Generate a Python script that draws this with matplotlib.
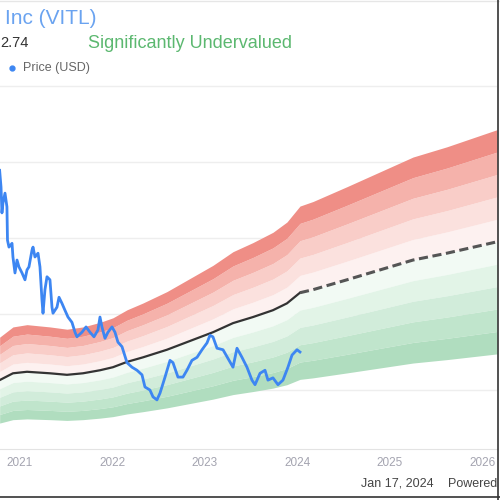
import numpy as np
import matplotlib
matplotlib.use("Agg")
import matplotlib.pyplot as plt

plt.rcParams['font.family'] = ['Liberation Sans', 'DejaVu Sans']

# price history (fractional year, USD)
price_years = [2020.78, 2020.795, 2020.805, 2020.816, 2020.838, 2020.859, 2020.865, 2020.881,
               2020.914, 2020.924, 2020.946, 2020.968, 2020.989, 2021.022, 2021.054, 2021.076,
               2021.097, 2021.130, 2021.141, 2021.162, 2021.195, 2021.216, 2021.238, 2021.249,
               2021.270, 2021.292, 2021.324, 2021.346, 2021.357, 2021.400, 2021.422, 2021.454,
               2021.486, 2021.519, 2021.562, 2021.595, 2021.616, 2021.670, 2021.714, 2021.757,
               2021.800, 2021.843, 2021.865, 2021.886, 2021.919, 2021.951, 2021.995, 2022.027,
               2022.059, 2022.103, 2022.157, 2022.211, 2022.265, 2022.319, 2022.351, 2022.405,
               2022.438, 2022.481, 2022.514, 2022.568, 2022.622, 2022.654, 2022.708, 2022.762,
               2022.805, 2022.859, 2022.914, 2022.968, 2023.022, 2023.054, 2023.086, 2023.130,
               2023.195, 2023.270, 2023.303, 2023.346, 2023.400, 2023.454, 2023.508, 2023.541,
               2023.595, 2023.649, 2023.681, 2023.735, 2023.789, 2023.843, 2023.897, 2023.941,
               2023.995, 2024.027]
price_vals = [38.9, 36.7, 33.3, 34.6, 35.9, 34.1, 29.7, 28.8,
              29.3, 27.5, 25.4, 27.1, 26.2, 25.4, 24.5, 25.8,
              26.2, 28.4, 28.8, 27.5, 28.0, 26.2, 21.8, 20.1,
              23.2, 24.9, 24.5, 20.9, 20.1, 20.9, 22.2, 21.4,
              20.5, 19.6, 18.9, 17.6, 17.0, 17.6, 18.3, 17.6,
              17.0, 17.9, 19.6, 18.3, 16.8, 17.6, 18.3, 17.6,
              16.3, 15.7, 13.6, 13.0, 12.6, 12.0, 10.4, 10.0,
              9.1, 8.7, 9.6, 11.7, 13.9, 13.6, 11.7, 11.7,
              12.6, 13.9, 14.3, 15.3, 16.2, 17.2, 17.0, 15.5,
              15.3, 13.7, 13.0, 15.5, 14.3, 13.0, 11.3, 10.7,
              12.2, 12.6, 11.3, 11.6, 10.7, 11.3, 13.0, 14.6,
              15.3, 15.0]

# GF Value line (history + projection)
gf_years = [2020.78, 2020.924, 2021.076, 2021.324, 2021.508, 2021.681, 2021.865, 2022.005,
            2022.157, 2022.330, 2022.589, 2022.870, 2023.086, 2023.303, 2023.519, 2023.735,
            2023.886, 2024.027, 2024.168, 2024.535, 2024.892, 2025.249, 2025.616, 2026.157]
gf_vals = [11.3, 12.2, 12.4, 12.2, 12.0, 12.2, 12.6, 13.0,
           13.7, 14.3, 15.3, 16.6, 17.6, 18.8, 19.6, 20.5,
           21.4, 22.8, 23.2, 24.5, 25.8, 27.1, 28.0, 29.5]
today = 2024.027

# valuation bands as multiples of GF Value
over_ratios = [1.0, 1.1, 1.2, 1.3, 1.4, 1.5]
over_colors = ['#fdf1f0', '#fbe1de', '#f9cdc8', '#f5b2ab', '#ef8e86']
under_ratios = [1.0, 0.9, 0.8, 0.7, 0.6, 0.5]
under_colors = ['#f2faf4', '#e2f4e7', '#d1ecda', '#c0e5cc', '#b0ddbf']

tick_years = [2021, 2022, 2023, 2024, 2025, 2026]
tick_labels = ['2021', '2022', '2023', '2024', '2025', '2026']

fig = plt.figure(figsize=(5, 5), dpi=100)
ax = fig.add_axes([0.0, 0.102, 0.994, 0.730])

gy = np.array(gf_years)
gv = np.array(gf_vals)
for i in range(5):
    ax.fill_between(gy, gv * over_ratios[i], gv * over_ratios[i + 1],
                    color=over_colors[i], linewidth=0)
    ax.fill_between(gy, gv * under_ratios[i + 1], gv * under_ratios[i],
                    color=under_colors[i], linewidth=0)

hist = gy <= today + 1e-6
proj = gy >= today - 1e-6
ax.plot(gy[hist], gv[hist], color='#333333', lw=1.6, zorder=3)
ax.plot(gy[proj], gv[proj], color='#555555', lw=2.2, ls=(0, (3, 1.5)), zorder=3)

ax.plot(price_years, price_vals, color='#3d86f2', lw=2.0, zorder=4)

ax.set_xlim(2020.784, 2026.157)
ax.set_ylim(2.24, 50.26)
ax.set_yticks([10, 20, 30, 40, 50])
ax.set_xticks(tick_years)
ax.set_xticklabels(tick_labels)
ax.grid(axis='y', color='#eeeeee', lw=1)
ax.set_axisbelow(True)
for s in ['left', 'right', 'top']:
    ax.spines[s].set_visible(False)
ax.spines['bottom'].set_color('#e3e3e3')
ax.tick_params(axis='y', left=False, labelleft=False)
ax.tick_params(axis='x', length=0, pad=6, labelsize=8.5, labelcolor='#a4a4b0')

# header texts
fig.text(5 / 500, 1 - 18 / 500, 'Inc (VITL)', color='#6aa3f0', fontsize=15, va='center', ha='left')
fig.text(0 / 500, 1 - 43 / 500, '2.74', color='#333333', fontsize=10.5, va='center', ha='left')
fig.text(88 / 500, 1 - 43 / 500, 'Significantly Undervalued', color='#5cb870', fontsize=13,
         va='center', ha='left')
fig.lines.append(plt.Line2D([12 / 500], [1 - 68 / 500], marker='o', ms=3.5, color='#3d86f2',
                            transform=fig.transFigure))
fig.text(23 / 500, 1 - 68 / 500, 'Price (USD)', color='#666666', fontsize=9, va='center', ha='left')
fig.text(361 / 500, 1 - 484 / 500, 'Jan 17, 2024', color='#444444', fontsize=9, va='center', ha='left')
fig.text(448 / 500, 1 - 484 / 500, 'Powered', color='#444444', fontsize=9, va='center', ha='left')

# frame of the image
fig.lines.append(plt.Line2D([0, 1], [0.998, 0.998], color='#e6e6e6', lw=1, transform=fig.transFigure))
fig.lines.append(plt.Line2D([0.995, 0.995], [0, 1], color='#333333', lw=1.2, transform=fig.transFigure))
fig.lines.append(plt.Line2D([0, 1], [0.006, 0.006], color='#333333', lw=1.2, transform=fig.transFigure))

fig.savefig('out.png', dpi=100)
